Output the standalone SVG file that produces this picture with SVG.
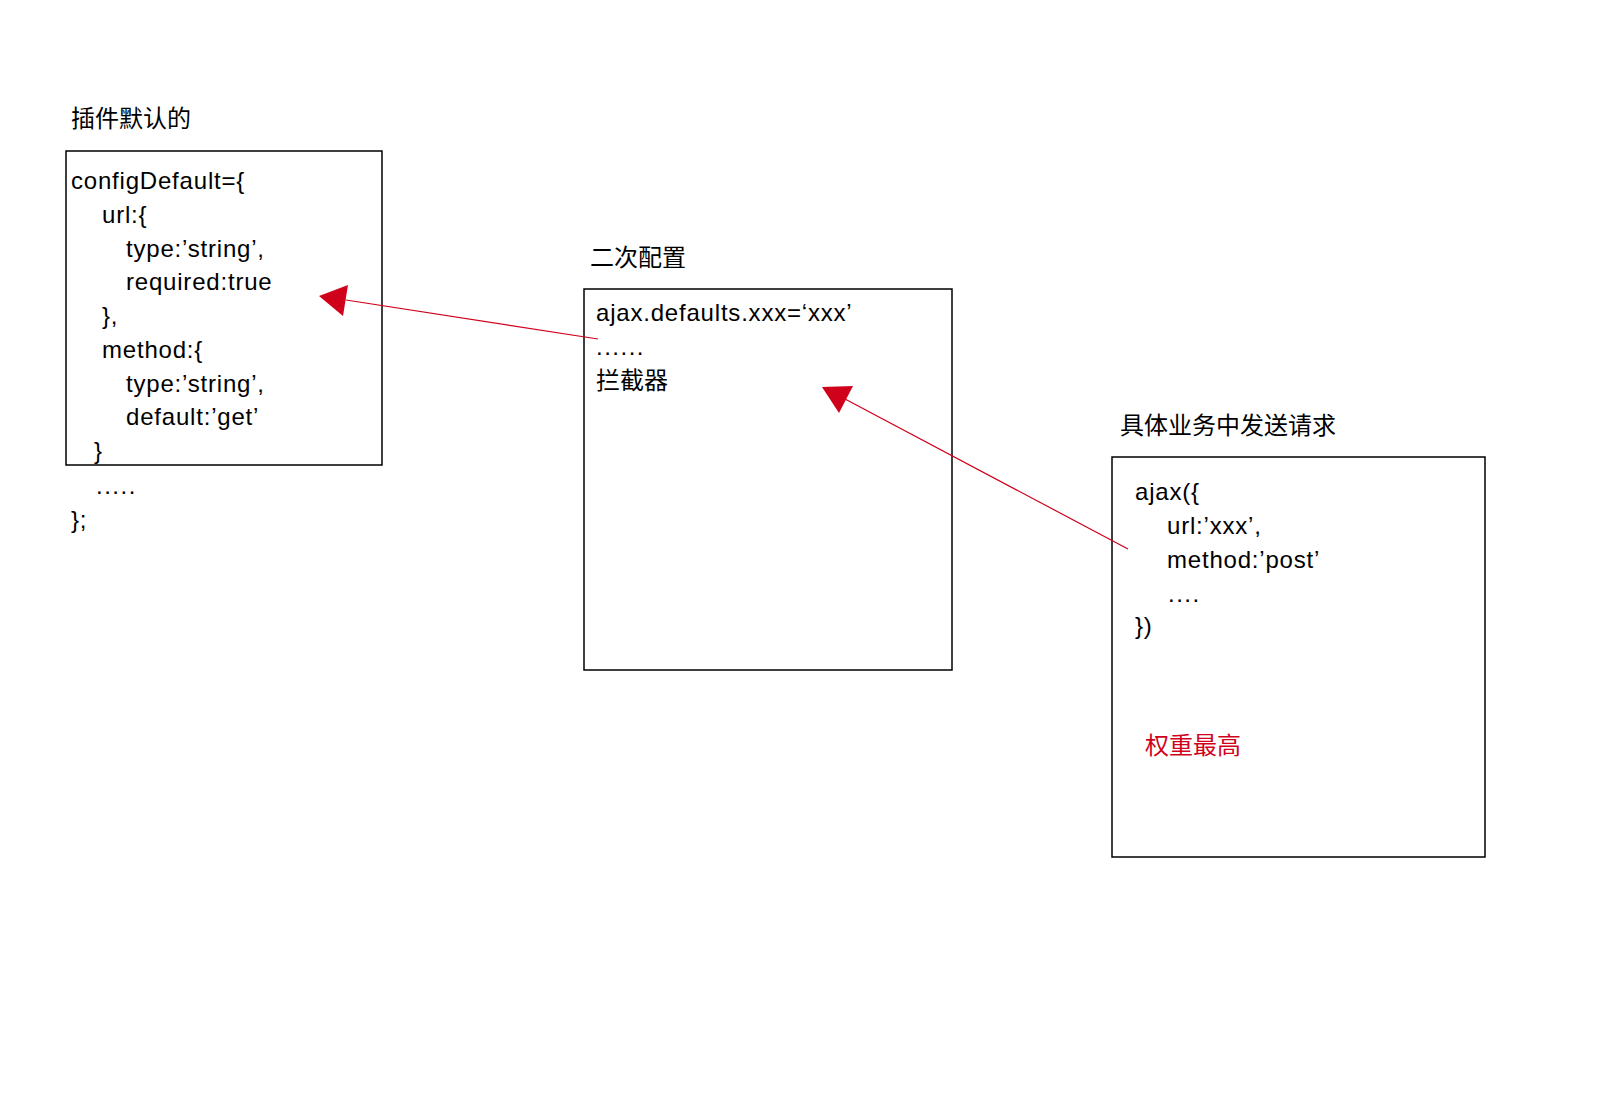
<svg xmlns="http://www.w3.org/2000/svg" width="1600" height="1104" viewBox="0 0 1600 1104">
<style>
  text { font-family: "Liberation Sans", "Noto Sans CJK SC", Arial, sans-serif; font-size: 24px; fill: #000; }
  .code { letter-spacing: 0.8px; }
  .dots { letter-spacing: 1.5px; }
  .box { fill: none; stroke: #000; stroke-width: 1.5; }
  .red { fill: #d0021b; }
  .conn { stroke: #d0021b; stroke-width: 1.2; fill: none; }
  .head { fill: #d0021b; stroke: none; }
</style>
<rect width="1600" height="1104" fill="#fff"/>
<g id="node-default">
  <text x="71" y="127">插件默认的</text>
  <rect class="box" x="66" y="151" width="316" height="314"/>
  <text class="code" x="71" y="189">configDefault={</text>
  <text class="code" x="102" y="223">url:{</text>
  <text class="code" x="126" y="257">type:’string’,</text>
  <text class="code" x="126" y="290">required:true</text>
  <text class="code" x="102" y="324">},</text>
  <text class="code" x="102" y="358">method:{</text>
  <text class="code" x="126" y="392">type:’string’,</text>
  <text class="code" x="126" y="425">default:’get’</text>
  <text class="code" x="94" y="459">}</text>
  <text class="dots" x="96" y="494">.....</text>
  <text class="code" x="71" y="528">};</text>
</g>
<g id="node-secondary">
  <text x="590" y="266">二次配置</text>
  <rect class="box" x="584" y="289" width="368" height="381"/>
  <text class="code" x="596" y="321">ajax.defaults.xxx=‘xxx’</text>
  <text class="dots" x="596" y="355">......</text>
  <text x="596" y="389">拦截器</text>
</g>
<g id="node-request">
  <text x="1120" y="434">具体业务中发送请求</text>
  <rect class="box" x="1112" y="457" width="373" height="400"/>
  <text class="code" x="1135" y="500">ajax({</text>
  <text class="code" x="1167" y="534">url:’xxx’,</text>
  <text class="code" x="1167" y="568">method:’post’</text>
  <text class="dots" x="1168" y="602">....</text>
  <text class="code" x="1135" y="634">})</text>
  <text class="red" x="1145" y="754">权重最高</text>
</g>
<g id="connectors">
  <line class="conn" x1="598" y1="339" x2="346" y2="300"/>
  <polygon class="head" points="319,296 348,285 343,316"/>
  <line class="conn" x1="1128" y1="549" x2="845" y2="399"/>
  <polygon class="head" points="822,387 853,386 839,413"/>
</g>
</svg>
